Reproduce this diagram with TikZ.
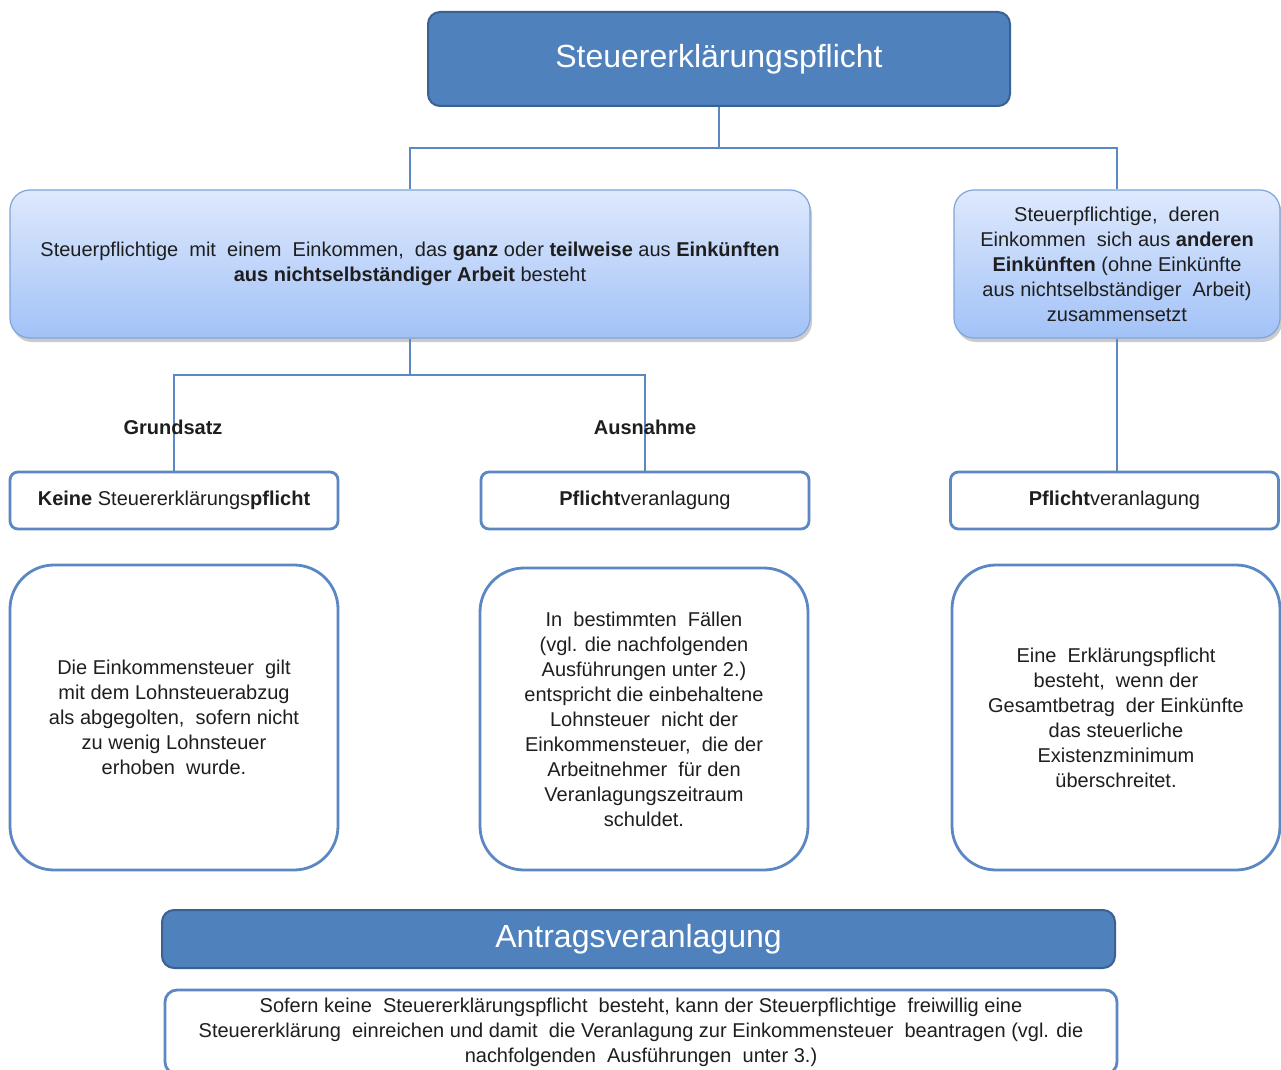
\documentclass[tikz,border=0pt]{standalone}
\usepackage{fontspec}
\setmainfont{Liberation Sans}
\usetikzlibrary{shadows}

\definecolor{headblue}{HTML}{4F81BD}
\definecolor{headedge}{HTML}{3A6192}
\definecolor{gradtop}{HTML}{DEE9FD}
\definecolor{gradbot}{HTML}{A2C2F7}
\definecolor{gradedge}{HTML}{7EA4DA}
\definecolor{lineblue}{HTML}{5B88C2}
\definecolor{textgray}{HTML}{1E1E1E}

\tikzset{
  headbox/.style={draw=headedge, line width=1pt, fill=headblue, rounded corners=6pt,
    text=white, font=\fontsize{16}{18}\selectfont},
  gradbox/.style={draw=gradedge, line width=0.6pt, top color=gradtop, bottom color=gradbot,
    rounded corners=10pt, align=center, text=textgray,
    font=\fontsize{10}{12.5}\selectfont,
    drop shadow={shadow xshift=1pt, shadow yshift=-2pt, fill=black!45, opacity=0.45}},
  labbox/.style={draw=lineblue, line width=1.4pt, fill=white, rounded corners=4pt,
    minimum width=164pt, minimum height=28.5pt, text=textgray,
    font=\fontsize{10}{12}\selectfont},
  textbox/.style={draw=lineblue, line width=1.4pt, fill=white, rounded corners=22pt,
    minimum width=164pt, align=center, text=textgray,
    font=\fontsize{10}{12.5}\selectfont},
  conn/.style={draw=lineblue, line width=0.7pt},
  branch/.style={text=textgray, font=\fontsize{10}{12}\selectfont\bfseries}
}

\begin{document}
\begin{tikzpicture}[x=0.5pt,y=-0.5pt]
\useasboundingbox (0,0) rectangle (1281,1070);

% headings
\node[headbox, minimum width=291pt, minimum height=47pt] (pflicht) at (719,59) {Steuererklärungspflicht};
\node[headbox, minimum width=476.5pt, minimum height=29pt] (antrag) at (638.5,939) {Antragsveranlagung};

% income groups
\node[gradbox, minimum width=400pt, minimum height=74pt] (nsa) at (410,264)
  {Steuerpflichtige\ \ mit\ \ einem\ \ Einkommen,\ \ das \textbf{ganz} oder \textbf{teilweise} aus \textbf{Einkünften}\\
   \textbf{aus nichtselbständiger Arbeit} besteht};
\node[gradbox, minimum width=163pt, minimum height=74pt] (andere) at (1117,264)
  {Steuerpflichtige,\ \ deren\\
   Einkommen\ \ sich aus \textbf{anderen}\\
   \textbf{Einkünften} (ohne Einkünfte\\
   aus nichtselbständiger\ \ Arbeit)\\
   zusammensetzt};

% result labels
\node[labbox] (keine) at (174,500.5) {\textbf{Keine} Steuererklärungs\textbf{pflicht}};
\node[labbox] (pflmid) at (645,500.5) {\textbf{Pflicht}veranlagung};
\node[labbox] (pflright) at (1114.5,500.5) {\textbf{Pflicht}veranlagung};

% explanations
\node[textbox, minimum height=152.5pt] (gilt) at (174,717.5)
  {Die Einkommensteuer\ \ gilt\\
   mit dem Lohnsteuerabzug\\
   als abgegolten,\ \ sofern nicht\\
   zu wenig Lohnsteuer\\
   erhoben\ \ wurde.};
\node[textbox, minimum height=151pt] (faelle) at (644,719)
  {In\ \ bestimmten\ \ Fällen\\
   (vgl. die nachfolgenden\\
   Ausführungen unter 2.)\\
   entspricht die einbehaltene\\
   Lohnsteuer\ \ nicht der\\
   Einkommensteuer,\ \ die der\\
   Arbeitnehmer\ \ für den\\
   Veranlagungszeitraum\\
   schuldet.};
\node[textbox, minimum height=152.5pt] (existenz) at (1116,717.5)
  {Eine\ \ Erklärungspflicht\\
   besteht,\ \ wenn der\\
   Gesamtbetrag\ \ der Einkünfte\\
   das steuerliche\\
   Existenzminimum\\
   überschreitet.};
\node[textbox, rounded corners=6pt, minimum width=476pt, minimum height=42pt] (freiwillig) at (641,1032)
  {Sofern keine\ \ Steuererklärungspflicht\ \ besteht, kann der Steuerpflichtige\ \ freiwillig eine\\
   Steuererklärung\ \ einreichen und damit\ \ die Veranlagung zur Einkommensteuer\ \ beantragen (vgl. die\\
   nachfolgenden\ \ Ausführungen\ \ unter 3.)};

% connectors
\coordinate (split) at (720,148);
\coordinate (fork) at (411,375);
\draw[conn] (pflicht.south) -- (pflicht.south |- split);
\draw[conn] (nsa.north) -- (nsa.north |- split) -| (andere.north);
\draw[conn] (nsa.south) -- (nsa.south |- fork);
\draw[conn] (keine.north) -- (keine.north |- fork) -| (pflmid.north);
\draw[conn] (andere.south) -- (andere.south |- pflright.north);

% branch labels
\node[branch] (grund) at (173,427) {Grundsatz};
\node[branch] (ausn) at (645,427) {Ausnahme};
\end{tikzpicture}
\end{document}
